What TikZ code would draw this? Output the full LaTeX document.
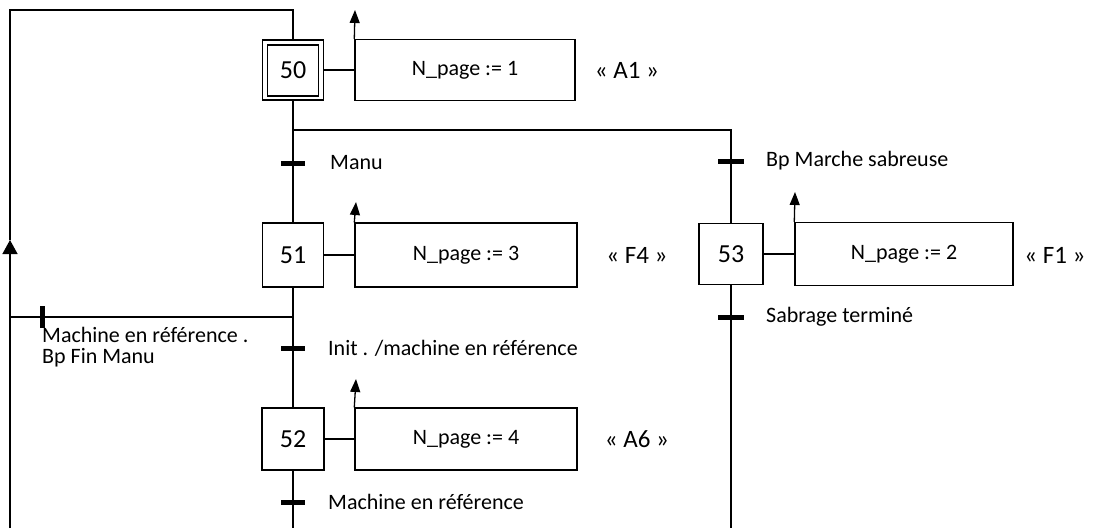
\documentclass[tikz,border=0pt]{standalone}
\usepackage{fontspec}
\setmainfont{Carlito}
\usetikzlibrary{arrows.meta}
\begin{document}
\begin{tikzpicture}[x=1pt,y=-1pt,
  link/.style={line width=1.3pt},
  stepbox/.style={draw, line width=1.4pt, inner sep=0pt, font=\fontsize{26}{30}\selectfont},
  actbox/.style={draw, line width=1.4pt, inner sep=0pt, font=\fontsize{22}{26}\selectfont},
  lbl/.style={anchor=west, inner sep=0pt, font=\fontsize{22}{26}\selectfont},
  tag/.style={inner sep=0pt, font=\fontsize{25}{29}\selectfont},
  tbar/.style={line width=5pt},
  upar/.style={line width=1.3pt, -{Triangle[length=13pt,width=10pt]}},
  bigar/.style={line width=1.3pt, -{Triangle[length=14pt,width=15pt]}}]
\useasboundingbox (0,0) rectangle (1096,528);
% steps
\node[stepbox, minimum width=61pt, minimum height=60pt] (s50) at (293,70) {};
\node[stepbox, minimum width=51pt, minimum height=51pt] (s50i) at (293,70.5) {50};
\node[stepbox, minimum width=61pt, minimum height=64pt] (s51) at (293,255) {51};
\node[stepbox, minimum width=62pt, minimum height=62pt] (s52) at (293,439) {52};
\node[stepbox, minimum width=64pt, minimum height=61pt] (s53) at (731,254) {53};
% actions
\node[actbox, minimum width=220pt, minimum height=61pt] (a50) at (465,70) {N\_page := 1};
\node[actbox, minimum width=222pt, minimum height=64pt] (a51) at (466,255) {N\_page := 3};
\node[actbox, minimum width=222pt, minimum height=62pt] (a52) at (466,439) {N\_page := 4};
\node[actbox, minimum width=218pt, minimum height=63pt] (a53) at (904,254) {N\_page := 2};
% tags
\node[tag] (g50) at (627,70) {« A1 »};
\node[tag] (g51) at (637,255) {« F4 »};
\node[tag] (g52) at (637,439) {« A6 »};
\node[tag] (g53) at (1055,255) {« F1 »};
% action links and arrows
\draw[link] (s50.east) -- (a50.west);
\draw[link] (s51.east) -- (a51.west);
\draw[link] (s52.east) -- (a52.west);
\draw[link] (s53.east) -- (a53.west);
\coordinate (u50) at (355,10);
\coordinate (u51) at (356,202);
\coordinate (u52) at (356,379);
\coordinate (u53) at (795,192);
\draw[upar] (a50.north west) -- (u50);
\draw[upar] (a51.north west) -- (u51);
\draw[upar] (a52.north west) -- (u52);
\draw[upar] (a53.north west) -- (u53);
% coordinates for links
\coordinate (tl) at (10,10);
\coordinate (tr) at (293,10);
\coordinate (lb) at (10,528);
\coordinate (la) at (10,240);
\coordinate (lj) at (10,317);
\coordinate (mj) at (293,317);
\coordinate (dv) at (293,130);
\coordinate (dvr) at (731,130);
\coordinate (mb) at (293,528);
\coordinate (rb) at (731,528);
% links
\draw[bigar] (lb) -- (la);
\draw[link] (la) -- (tl) -- (tr) -- (s50.north);
\draw[link] (s50.south) -- (s51.north);
\draw[link] (s51.south) -- (s52.north);
\draw[link] (s52.south) -- (mb);
\draw[link] (dv) -- (dvr) -- (s53.north);
\draw[link] (s53.south) -- (rb);
\draw[link] (lj) -- (mj);
% transitions
\coordinate (t1) at (293,163);
\coordinate (t2) at (293,348);
\coordinate (t3) at (293,502);
\coordinate (t4) at (731,161);
\coordinate (t5) at (731,317);
\coordinate (t6) at (42,317);
\draw[tbar] ([xshift=-12pt]t1) -- ([xshift=12pt]t1);
\draw[tbar] ([xshift=-12pt]t2) -- ([xshift=12pt]t2);
\draw[tbar] ([xshift=-12pt]t3) -- ([xshift=12pt]t3);
\draw[tbar] ([xshift=-13pt]t4) -- ([xshift=13pt]t4);
\draw[tbar] ([xshift=-13pt]t5) -- ([xshift=13pt]t5);
\draw[tbar] ([yshift=-11pt]t6) -- ([yshift=11pt]t6);
% labels
\node[lbl] (l1) at (330,163) {Manu};
\node[lbl] (l2) at (328,348) {Init . /machine en référence};
\node[lbl] (l3) at (328,502) {Machine en référence};
\node[lbl] (l4) at (766,161) {Bp Marche sabreuse};
\node[lbl] (l5) at (766,317) {Sabrage terminé};
\node[lbl] (l6) at (42,335) {Machine en référence .};
\node[lbl] (l7) at (42,358) {Bp Fin Manu};
\end{tikzpicture}
\end{document}
